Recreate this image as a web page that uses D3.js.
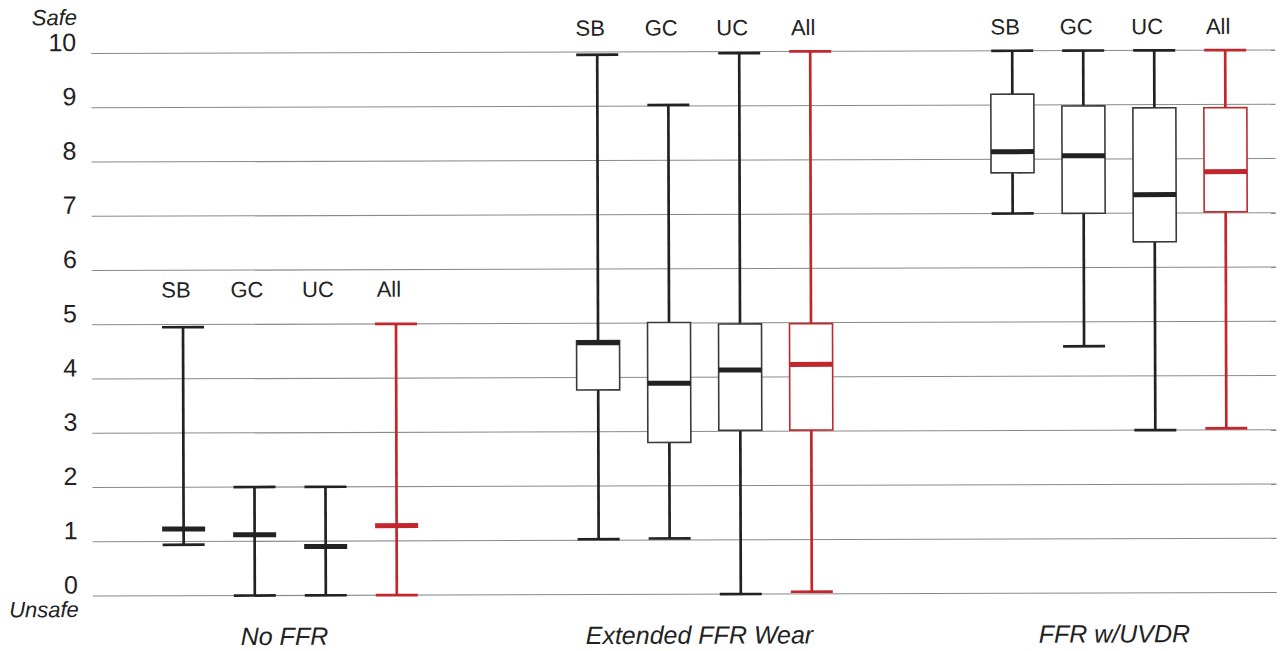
<!DOCTYPE html>
<html>
<head>
<meta charset="utf-8">
<script src="https://cdn.jsdelivr.net/npm/d3@7"></script>
<style>
  html, body { margin: 0; padding: 0; background: #fff; }
  svg { display: block; font-family: "Liberation Sans", Arial, Helvetica, sans-serif; }
</style>
</head>
<body>
<svg id="chart" width="1282" height="651"></svg>
<script>
// ---- data ----
const groups = ["No FFR", "Extended FFR Wear", "FFR w/UVDR"];
const subgroups = ["SB", "GC", "UC", "All"];
const minVals = [[0.94, 0, 0, 0], [1.02, 1.03, 0, 0.04], [7.0, 4.55, 3.0, 3.03]];
const q1Vals  = [[1.23, 1.12, 0.9, 1.28], [3.77, 2.8, 3.02, 3.02], [7.75, 7.0, 6.47, 7.02]];
const medVals = [[1.23, 1.12, 0.9, 1.28], [4.64, 3.89, 4.13, 4.23], [8.14, 8.06, 7.34, 7.76]];
const q3Vals  = [[1.23, 1.12, 0.9, 1.28], [4.68, 5.01, 4.98, 4.98], [9.2, 8.98, 8.94, 8.94]];
const maxVals = [[4.95, 2, 2, 5], [9.95, 9.02, 9.97, 10], [10, 10, 10, 10]];
const labelLevels = [5.5, 10.3, 10.3];
const yTicks = [0, 1, 2, 3, 4, 5, 6, 7, 8, 9, 10];
const topLabel = "Safe";
const bottomLabel = "Unsafe";

// ---- layout ----
const W = 1282, H = 651;
const svg = d3.select("#chart");
const g = svg.append("g").attr("transform", "rotate(-0.17, 684, 323)");

const y = d3.scaleLinear().domain([0, 10]).range([594.25, 51.75]);
const xGroup = d3.scalePoint().domain(groups).range([183, 1013]);
const subStep = 71;
const xSub = d3.scaleLinear().domain([0, subgroups.length - 1]).range([0, subStep * (subgroups.length - 1)]);
const boxW = 43;
const black = "#222", red = "#c1272d";

// gridlines
g.append("g").selectAll("line").data(yTicks).join("line")
  .attr("x1", 92).attr("x2", 1276)
  .attr("y1", d => y(d)).attr("y2", d => y(d))
  .attr("stroke", "#8a8a8a").attr("stroke-width", 1.2);

// y tick labels
g.append("g").selectAll("text").data(yTicks).join("text")
  .attr("x", 77).attr("y", d => y(d) - 2.5)
  .attr("text-anchor", "end").attr("font-size", 25).attr("fill", "#222")
  .text(d => d);

g.append("text").attr("x", 78).attr("y", y(10) - 28.5)
  .attr("text-anchor", "end").attr("font-size", 22).attr("font-style", "italic").attr("fill", "#222")
  .text(topLabel);
g.append("text").attr("x", 78).attr("y", y(0) + 21)
  .attr("text-anchor", "end").attr("font-size", 22).attr("font-style", "italic").attr("fill", "#222")
  .text(bottomLabel);

// boxes
const items = [];
groups.forEach((grp, gi) => {
  subgroups.forEach((s, si) => {
    items.push({
      gi, si, grp, s,
      min: minVals[gi][si], q1: q1Vals[gi][si], med: medVals[gi][si],
      q3: q3Vals[gi][si], max: maxVals[gi][si],
      cx: xGroup(grp) + xSub(si),
      color: s === "All" ? red : black
    });
  });
});

const box = g.append("g").selectAll("g").data(items).join("g");

// lower whisker
box.append("line")
  .attr("x1", d => d.cx).attr("x2", d => d.cx)
  .attr("y1", d => y(d.min)).attr("y2", d => y(d.q1))
  .attr("stroke", d => d.color).attr("stroke-width", 2.7);
// upper whisker
box.append("line")
  .attr("x1", d => d.cx).attr("x2", d => d.cx)
  .attr("y1", d => y(d.q3)).attr("y2", d => y(d.max))
  .attr("stroke", d => d.color).attr("stroke-width", 2.7);
// caps
box.append("line")
  .attr("x1", d => d.cx - 21).attr("x2", d => d.cx + 21)
  .attr("y1", d => y(d.max)).attr("y2", d => y(d.max))
  .attr("stroke", d => d.color).attr("stroke-width", 2.7);
box.append("line")
  .attr("x1", d => d.cx - 21).attr("x2", d => d.cx + 21)
  .attr("y1", d => y(d.min)).attr("y2", d => y(d.min))
  .attr("stroke", d => d.color).attr("stroke-width", 2.7);
// box rect
box.filter(d => d.q3 > d.q1).append("rect")
  .attr("x", d => d.cx - boxW / 2).attr("width", boxW)
  .attr("y", d => y(d.q3)).attr("height", d => y(d.q1) - y(d.q3))
  .attr("fill", "#fff")
  .attr("stroke", d => d.s === "All" ? red : "#3a3a3a").attr("stroke-width", 1.6);
// median
box.append("line")
  .attr("x1", d => d.cx - boxW / 2).attr("x2", d => d.cx + boxW / 2)
  .attr("y1", d => y(d.med)).attr("y2", d => y(d.med))
  .attr("stroke", d => d.color).attr("stroke-width", 5);

// subgroup labels
g.append("g").selectAll("text").data(items).join("text")
  .attr("x", d => d.cx - 7).attr("y", d => y(labelLevels[d.gi]))
  .attr("text-anchor", "middle").attr("font-size", 22).attr("fill", "#222")
  .text(d => d.s);

// group titles
g.append("g").selectAll("text").data(groups).join("text")
  .attr("x", d => xGroup(d) + xSub(subgroups.length - 1) / 2 - 6)
  .attr("y", y(0) + 49.5)
  .attr("text-anchor", "middle").attr("font-size", 25).attr("font-style", "italic").attr("fill", "#222")
  .text(d => d);
</script>
</body>
</html>
